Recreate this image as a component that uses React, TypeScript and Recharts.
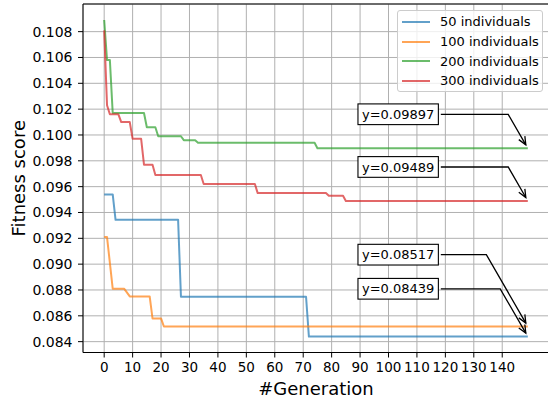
import React from "react";
import { LineChart, Line, XAxis, YAxis, CartesianGrid, Legend, ReferenceLine, ReferenceDot } from "recharts";

// breakpoints of each run (generation, best fitness)
const gens50 = [0, 3, 4, 26, 27, 71, 72, 149];
const fitness50 = [0.0954, 0.0954, 0.09343, 0.09343, 0.08748, 0.08748, 0.08439, 0.08439];

const gens100 = [0, 1, 3, 7, 9, 16, 17, 20, 21, 149];
const fitness100 = [0.0921, 0.0921, 0.0881, 0.0881, 0.0875, 0.0875, 0.0858, 0.0858, 0.08517, 0.08517];

const gens200 = [0, 1, 2, 3, 14, 15, 18, 19, 27, 28, 32, 33, 74, 75, 149];
const fitness200 = [0.1089, 0.1058, 0.1058, 0.1017, 0.1017, 0.1006, 0.1006, 0.0999, 0.0999, 0.0996, 0.0996, 0.0994, 0.0994, 0.09897, 0.09897];

const gens300 = [0, 1, 2, 5, 6, 9, 10, 13, 14, 17, 18, 34, 35, 53, 54, 78, 79, 84, 85, 149];
const fitness300 = [0.1081, 0.1023, 0.1016, 0.1016, 0.101, 0.101, 0.0997, 0.0997, 0.0977, 0.0977, 0.0969, 0.0969, 0.0962, 0.0962, 0.0955, 0.0955, 0.0953, 0.0953, 0.09489, 0.09489];

const xTicks = [0, 10, 20, 30, 40, 50, 60, 70, 80, 90, 100, 110, 120, 130, 140];
const yTicks = [0.084, 0.086, 0.088, 0.09, 0.092, 0.094, 0.096, 0.098, 0.1, 0.102, 0.104, 0.106, 0.108];

// annotations: final value, where the label box sits
const annValues = [0.09897, 0.09489, 0.08517, 0.08439];
const annLabelY = [0.1016, 0.09752, 0.09073, 0.08809];
const annLabelX = 103.4;
const annLineStartX = 118.4;
const lastGen = 149;

const font = "DejaVu Sans, Liberation Sans, sans-serif";

const toPoints = (gens: number[], vals: number[]) => gens.map((g, i) => ({ gen: g, value: vals[i] }));

const series = [
  { name: "50 individuals", color: "#1f77b4", data: toPoints(gens50, fitness50) },
  { name: "100 individuals", color: "#ff7f0e", data: toPoints(gens100, fitness100) },
  { name: "200 individuals", color: "#2ca02c", data: toPoints(gens200, fitness200) },
  { name: "300 individuals", color: "#d62728", data: toPoints(gens300, fitness300) },
];

// matplotlib-like "angle" connector with an open arrow head
const AngleArrow = (props: any) => {
  const { x1, y1, x2, y2 } = props;
  const elbowX = x2 - (y2 - y1) / Math.tan(Math.PI / 3);
  const dx = x2 - elbowX;
  const dy = y2 - y1;
  const len = Math.hypot(dx, dy);
  const ux = dx / len;
  const uy = dy / len;
  const tx = x2 - ux * 4;
  const ty = y2 - uy * 4;
  const hl = 8;
  const hw = 3.5;
  const bx = tx - ux * hl;
  const by = ty - uy * hl;
  return (
    <g>
      <polyline points={`${x1},${y1} ${elbowX},${y1} ${tx},${ty}`} fill="none" stroke="#000" strokeWidth={1.3} />
      <path
        d={`M${bx - uy * hw},${by + ux * hw} L${tx},${ty} L${bx + uy * hw},${by - ux * hw}`}
        fill="none"
        stroke="#000"
        strokeWidth={1.3}
      />
    </g>
  );
};

const LabelBox = (text: string) => (props: any) => {
  const { cx, cy } = props;
  return (
    <g>
      <rect x={cx - 40.2} y={cy - 10.4} width={80.4} height={20.7} fill="#fff" stroke="#000" strokeWidth={1.1} />
      <text x={cx} y={cy} textAnchor="middle" dominantBaseline="central" fontSize={13} fontFamily={font} fill="#000">
        {text}
      </text>
    </g>
  );
};

const renderLegend = () => (
  <div
    style={{
      boxSizing: "border-box",
      width: 146,
      height: 82,
      border: "1px solid #cccccc",
      borderRadius: 3,
      background: "rgba(255,255,255,0.8)",
      paddingTop: 1,
      fontFamily: font,
      fontSize: 13,
      color: "#000",
    }}
  >
    {series.map((s) => (
      <div key={s.name} style={{ display: "flex", alignItems: "center", height: 19.7 }}>
        <span style={{ display: "inline-block", width: 28, height: 2, marginLeft: 4, marginRight: 10, background: s.color, opacity: 0.7 }} />
        <span>{s.name}</span>
      </div>
    ))}
  </div>
);

export default function App() {
  return (
    <div style={{ position: "absolute", left: 0, top: 0, width: 548, height: 402, overflow: "hidden", background: "#fff" }}>
      <LineChart width={549} height={402} margin={{ top: 4, right: 0, bottom: 0, left: 0 }}>
        <CartesianGrid stroke="#b0b0b0" strokeWidth={1} />
        <XAxis
          dataKey="gen"
          type="number"
          domain={[-7.45, 156.45]}
          allowDataOverflow
          ticks={xTicks}
          interval={0}
          height={49.5}
          stroke="#000"
          tickSize={5}
          tickMargin={5}
          tick={{ fontSize: 13.5, fill: "#000", fontFamily: font }}
          label={{ value: "#Generation", position: "insideBottom", offset: 7, fontSize: 18, fill: "#000", fontFamily: font }}
        />
        <YAxis
          type="number"
          domain={[0.08316, 0.11014]}
          allowDataOverflow
          ticks={yTicks}
          interval={0}
          width={83}
          stroke="#000"
          tickSize={5}
          tickMargin={5.5}
          tickFormatter={(v: number) => v.toFixed(3)}
          tick={{ fontSize: 14, fill: "#000", fontFamily: font }}
          label={{
            content: (p: any) => {
              const vb = p.viewBox;
              const cy = vb.y + vb.height / 2;
              return (
                <text x={24.5} y={cy} transform={`rotate(-90, 24.5, ${cy})`} textAnchor="middle" fontSize={18} fontFamily={font} fill="#000">
                  Fitness score
                </text>
              );
            },
          }}
        />
        <ReferenceLine y={0.11014} stroke="#000" strokeWidth={1.1} />
        {series.map((s) => (
          <Line
            key={s.name}
            data={s.data}
            dataKey="value"
            name={s.name}
            type="linear"
            stroke={s.color}
            strokeOpacity={0.7}
            strokeWidth={2}
            strokeLinejoin="round"
            dot={false}
            activeDot={false}
            isAnimationActive={false}
          />
        ))}
        {annValues.map((v, i) => (
          <ReferenceLine
            key={`arrow-${i}`}
            segment={[
              { x: annLineStartX, y: annLabelY[i] },
              { x: lastGen, y: v },
            ]}
            shape={AngleArrow}
          />
        ))}
        {annValues.map((v, i) => (
          <ReferenceDot key={`box-${i}`} x={annLabelX} y={annLabelY[i]} r={1} shape={LabelBox(`y=${v}`)} />
        ))}
        <Legend
          layout="horizontal"
          verticalAlign="middle"
          align="center"
          content={renderLegend}
          wrapperStyle={{ left: 397, top: 10, width: 146, height: 82 }}
        />
      </LineChart>
    </div>
  );
}
